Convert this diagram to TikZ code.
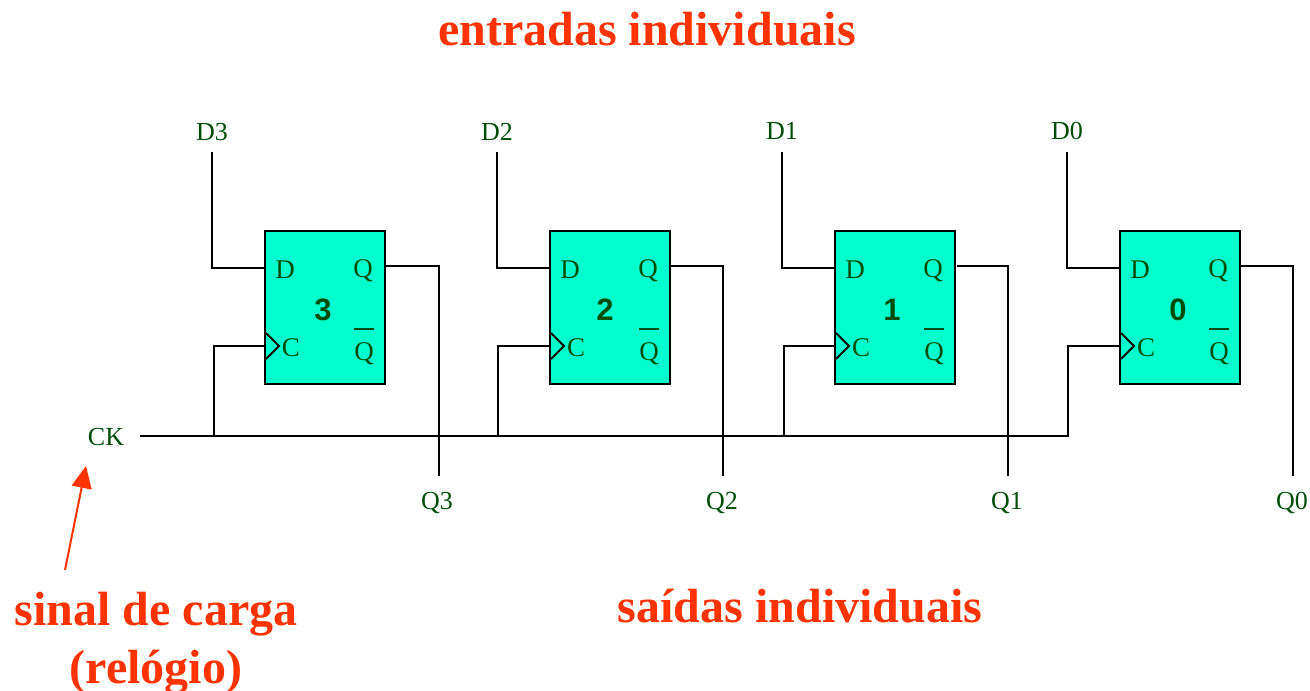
\documentclass[tikz,border=0pt]{standalone}
\usepackage{fontspec}
\setmainfont{Liberation Serif}
\newfontfamily\sansf{Liberation Sans}
\usetikzlibrary{arrows.meta,calc}
\definecolor{ffill}{HTML}{00FFCC}
\definecolor{lblgreen}{HTML}{004D0A}
\definecolor{hired}{HTML}{FF3300}
\tikzset{
  x=1pt,y=-1pt,
  wire/.style={draw=black,line width=1.8pt,line join=miter},
  ffbox/.style={draw=black,line width=2pt,fill=ffill,minimum width=120pt,minimum height=153pt,inner sep=0pt,outer sep=0pt},
  lbl/.style={text=lblgreen,font=\fontsize{26}{26}\selectfont,inner sep=0pt},
  port/.style={text=lblgreen,font=\fontsize{27}{27}\selectfont,inner sep=0pt},
  num/.style={text=lblgreen,font=\sansf\bfseries\fontsize{31}{31}\selectfont,inner sep=0pt},
  title/.style={text=hired,font=\bfseries\fontsize{48}{58}\selectfont,inner sep=0pt,align=center},
  pointer/.style={draw=hired,fill=hired,line width=2pt,-{Triangle[length=22pt,width=20pt]}}
}
\begin{document}
\begin{tikzpicture}
\useasboundingbox (0,0) rectangle (1310,691);
\node[title] (t1) at (647,29) {entradas individuais};
\node[title] (t2) at (800,606) {saídas individuais};
\node[title] (t3) at (156,643) {sinal de carga\\(relógio)};
\node[lbl] (ck) at (106,437) {CK};
\coordinate (busend) at (1068,436);
\coordinate (busstart) at (140,436);
\draw[wire] (busstart) -- (busend);
\foreach \n/\fx/\dx/\dlx/\cx/\qx/\qsx/\qlx/\numx/\dly in
  {3/265/212/212/214/439/386/437/323/132,
   2/550/497/497/498/723/671/722/605/132,
   1/835/782/782/784/1008/957/1007/892/131,
   0/1120/1067/1067/1068/1293/1241/1292/1178/131}{
  \node[ffbox,anchor=north west] (ff\n) at (\fx,231) {};
  \node[lbl] (dl\n) at (\dlx,\dly) {D\n};
  \node[lbl] (ql\n) at (\qlx,503) {Q\n};
  \node[port] (dp\n) at ($(\fx,270)+(20,0)$) {D};
  \node[port] (qp\n) at ($(\fx,271)+(98,0)$) {Q};
  \node[port] (cp\n) at ($(\fx,348)+(26,0)$) {C};
  \node[port] (np\n) at ($(\fx,354)+(99,0)$) {Q};
  \node[num] (nm\n) at (\numx,310) {\n};
  \draw[line width=2pt,lblgreen] ($(\fx,329)+(89,0)$) -- ($(\fx,329)+(109,0)$);
  \coordinate (dt\n) at (\dx,152);
  \coordinate (dpin\n) at (\fx,268);
  \draw[wire] (dt\n) |- (dpin\n);
  \coordinate (qs\n) at (\qsx,266);
  \coordinate (qe\n) at (\qx,476);
  \draw[wire] (qs\n) -| (qe\n);
  \coordinate (cb\n) at (\cx,437);
  \coordinate (ci\n) at (\fx,346);
  \draw[wire] (cb\n) |- (ci\n);
  \draw[line width=2pt,line join=miter] ($(\fx,333)+(1,0)$) -- ($(\fx,346)+(14,0)$) -- ($(\fx,359)+(1,0)$);
}
\coordinate (ptail) at (65,570);
\coordinate (phead) at (86,466);
\draw[pointer] (ptail) -- (phead);
\end{tikzpicture}
\end{document}
